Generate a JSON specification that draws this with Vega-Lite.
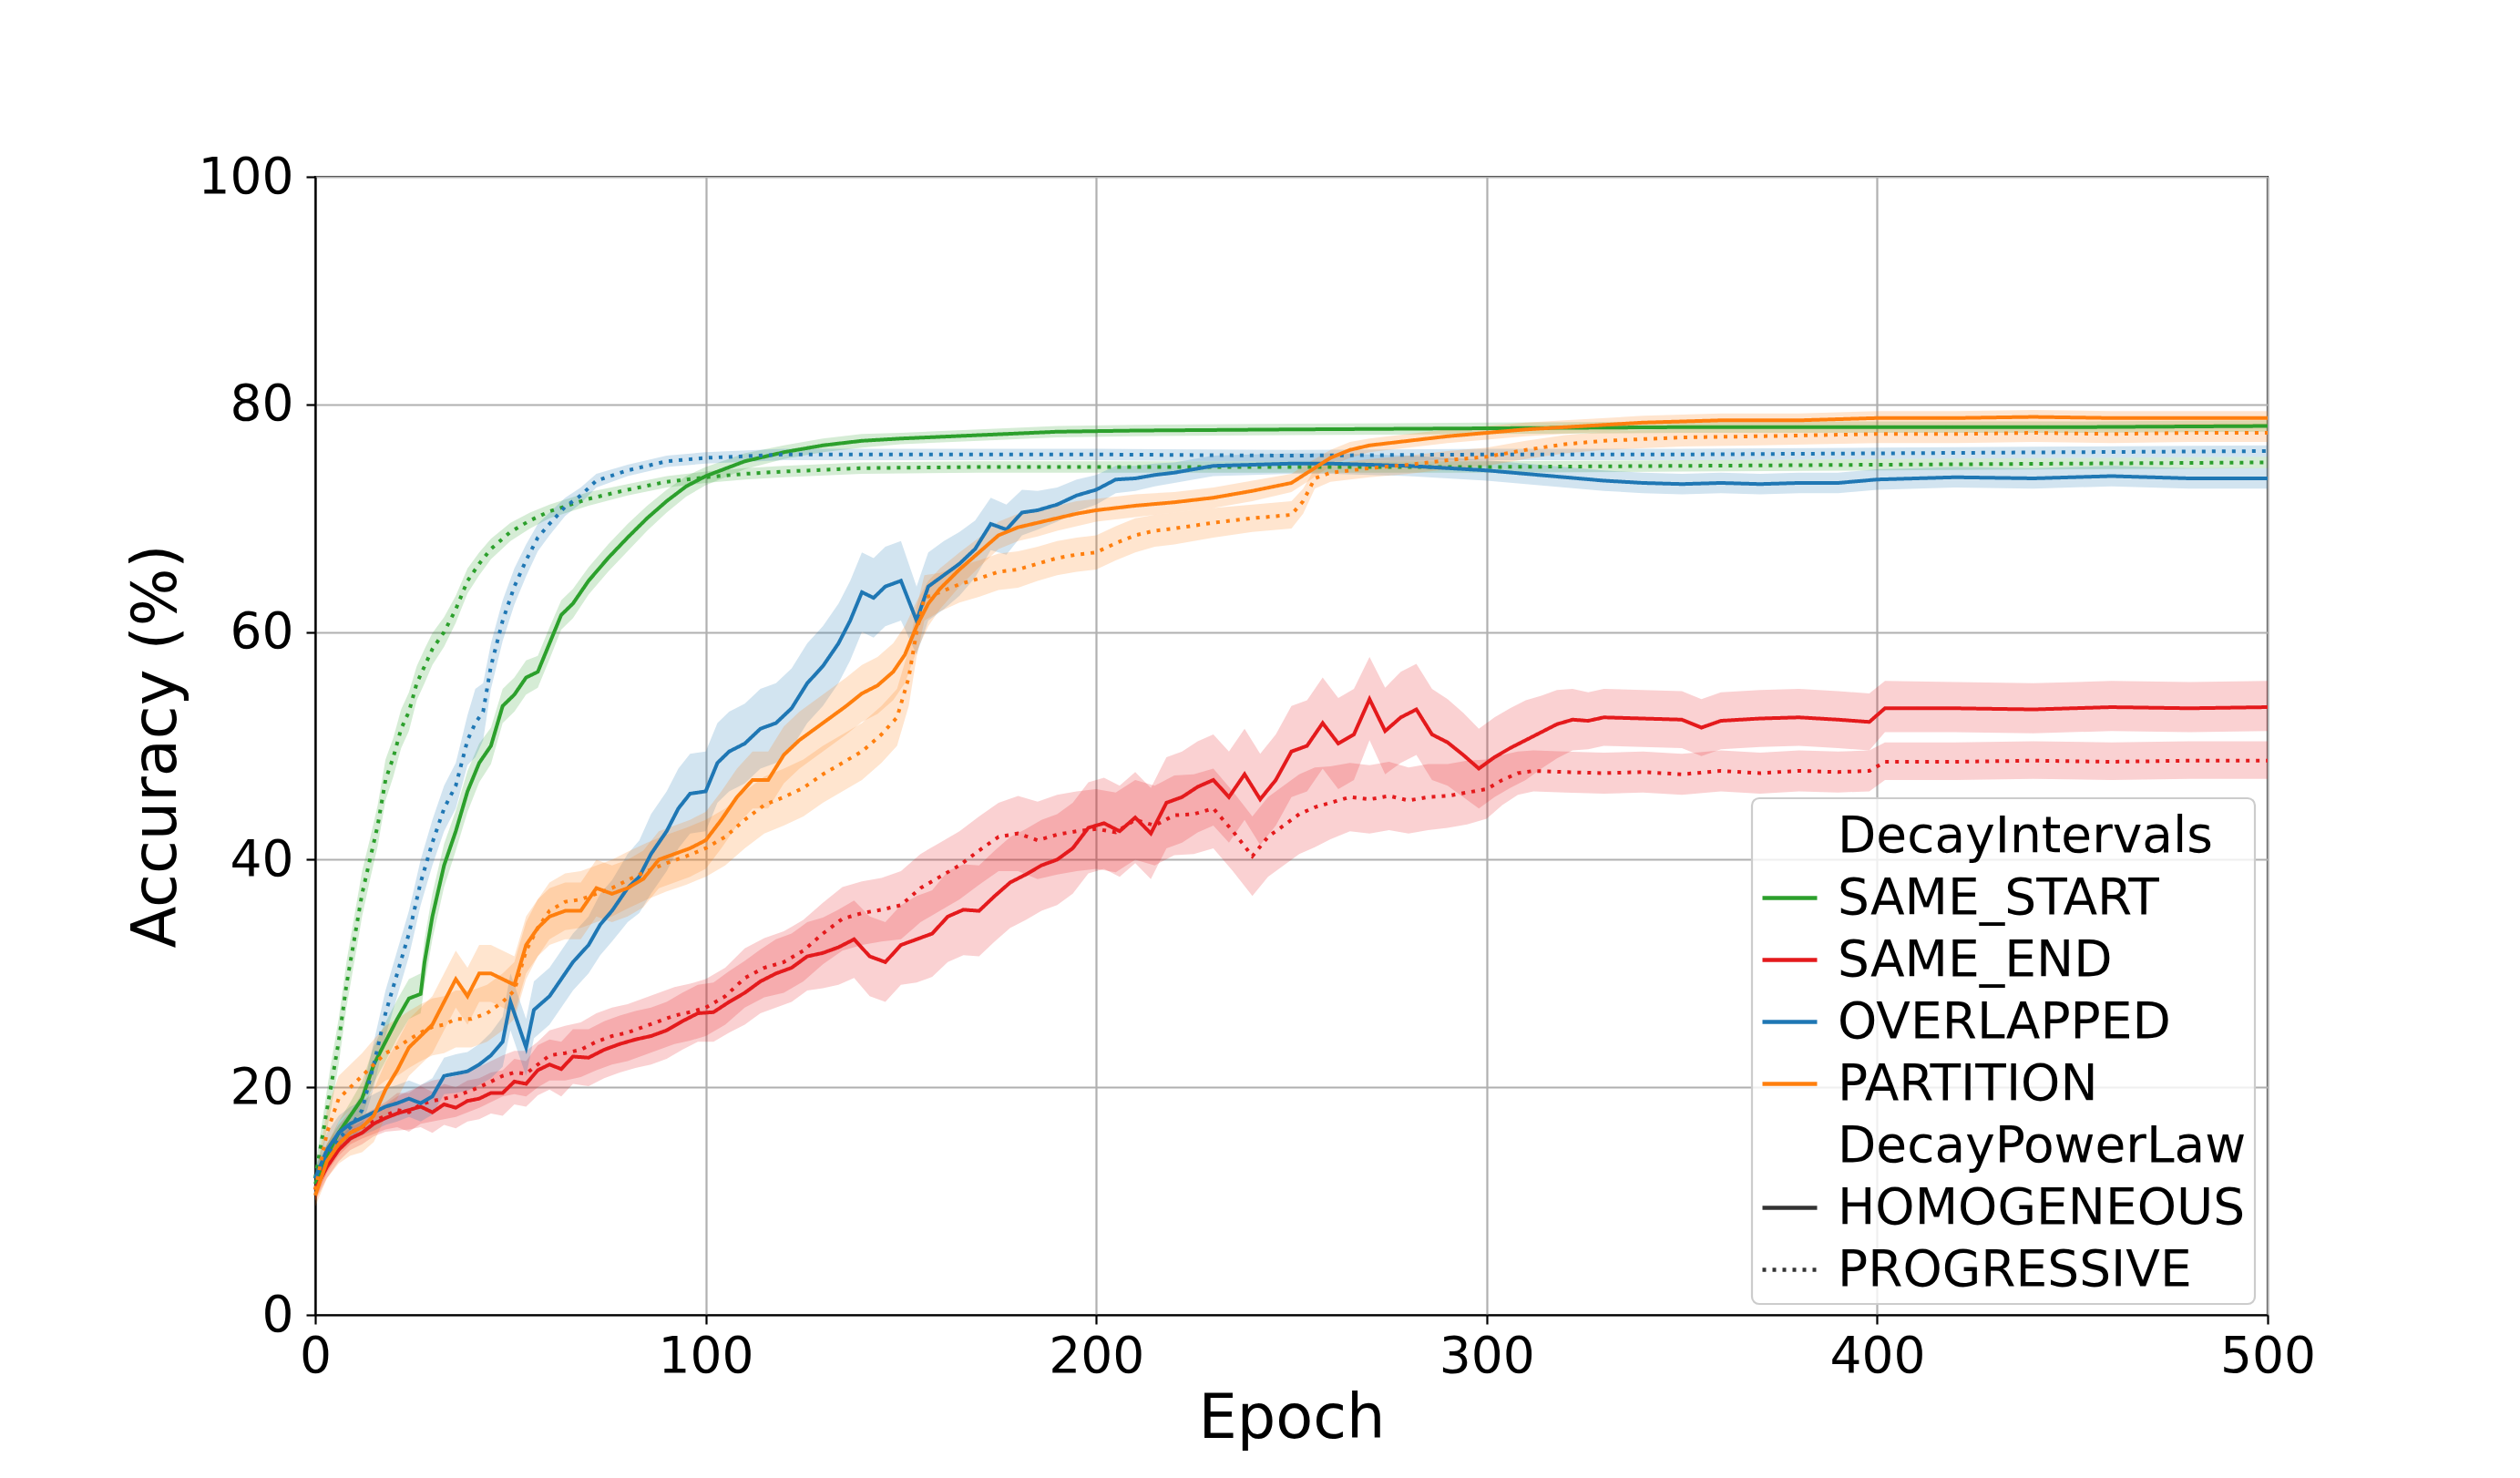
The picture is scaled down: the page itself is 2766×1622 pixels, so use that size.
{
  "$schema": "https://vega.github.io/schema/vega-lite/v6.json",
  "width": 2143,
  "height": 1249,
  "autosize": {"type": "none"},
  "padding": {"left": 346, "top": 194, "right": 277, "bottom": 179},
  "background": "white",
  "config": {
    "font": "DejaVu Sans",
    "view": {"stroke": "black", "strokeWidth": 2.2},
    "axis": {
      "labelFont": "DejaVu Sans", "labelFontSize": 55, "labelColor": "black",
      "titleFont": "DejaVu Sans", "titleFontSize": 67, "titleFontWeight": "normal", "titleColor": "black",
      "tickColor": "black", "tickSize": 10, "tickWidth": 2.2,
      "domainColor": "black", "domainWidth": 2.2,
      "gridColor": "#b0b0b0", "gridWidth": 2.2,
      "labelFlush": false, "labelOverlap": false
    },
    "axisX": {"labelPadding": 9, "titlePadding": 8},
    "axisY": {"labelPadding": 14, "titlePadding": 11},
    "legend": {
      "orient": "none", "legendX": 1577, "legendY": 682,
      "padding": 9, "fillColor": "rgba(255,255,255,0.8)", "strokeColor": "#cccccc",
      "strokeWidth": 2.2, "cornerRadius": 8,
      "labelFont": "DejaVu Sans", "labelFontSize": 55, "labelColor": "black", "labelLimit": 0,
      "symbolType": "stroke", "symbolSize": 3600, "symbolStrokeWidth": 4.5,
      "rowPadding": 7, "labelOffset": 20
    }
  },
  "datasets": {
    "curves": [
      {"e":0,"i":"SAME_START","p":"HOMOGENEOUS","m":11.5,"lo":10.5,"hi":12.5},
      {"e":3,"i":"SAME_START","p":"HOMOGENEOUS","m":14,"lo":13,"hi":15},
      {"e":6,"i":"SAME_START","p":"HOMOGENEOUS","m":16,"lo":15,"hi":17},
      {"e":9,"i":"SAME_START","p":"HOMOGENEOUS","m":17.5,"lo":16.3,"hi":18.7},
      {"e":12,"i":"SAME_START","p":"HOMOGENEOUS","m":19,"lo":17.5,"hi":20.5},
      {"e":15,"i":"SAME_START","p":"HOMOGENEOUS","m":22,"lo":20.4,"hi":23.6},
      {"e":18,"i":"SAME_START","p":"HOMOGENEOUS","m":24,"lo":22.3,"hi":25.7},
      {"e":21,"i":"SAME_START","p":"HOMOGENEOUS","m":26,"lo":24.3,"hi":27.7},
      {"e":24,"i":"SAME_START","p":"HOMOGENEOUS","m":27.8,"lo":26,"hi":29.5},
      {"e":27,"i":"SAME_START","p":"HOMOGENEOUS","m":28.2,"lo":26.5,"hi":30},
      {"e":28,"i":"SAME_START","p":"HOMOGENEOUS","m":31,"lo":29,"hi":33},
      {"e":30,"i":"SAME_START","p":"HOMOGENEOUS","m":35,"lo":33,"hi":37},
      {"e":33,"i":"SAME_START","p":"HOMOGENEOUS","m":39.5,"lo":37.6,"hi":41.4},
      {"e":36,"i":"SAME_START","p":"HOMOGENEOUS","m":42.5,"lo":40.8,"hi":44.3},
      {"e":39,"i":"SAME_START","p":"HOMOGENEOUS","m":46,"lo":44.2,"hi":47.8},
      {"e":42,"i":"SAME_START","p":"HOMOGENEOUS","m":48.5,"lo":46.8,"hi":50.2},
      {"e":45,"i":"SAME_START","p":"HOMOGENEOUS","m":50,"lo":48.4,"hi":51.6},
      {"e":48,"i":"SAME_START","p":"HOMOGENEOUS","m":53.5,"lo":52,"hi":55},
      {"e":51,"i":"SAME_START","p":"HOMOGENEOUS","m":54.5,"lo":53,"hi":56},
      {"e":54,"i":"SAME_START","p":"HOMOGENEOUS","m":56,"lo":54.5,"hi":57.5},
      {"e":57,"i":"SAME_START","p":"HOMOGENEOUS","m":56.5,"lo":55.1,"hi":57.9},
      {"e":60,"i":"SAME_START","p":"HOMOGENEOUS","m":59,"lo":57.6,"hi":60.4},
      {"e":63,"i":"SAME_START","p":"HOMOGENEOUS","m":61.5,"lo":60.2,"hi":62.8},
      {"e":66,"i":"SAME_START","p":"HOMOGENEOUS","m":62.5,"lo":61.2,"hi":63.8},
      {"e":70,"i":"SAME_START","p":"HOMOGENEOUS","m":64.5,"lo":63.3,"hi":65.7},
      {"e":75,"i":"SAME_START","p":"HOMOGENEOUS","m":66.5,"lo":65.3,"hi":67.7},
      {"e":80,"i":"SAME_START","p":"HOMOGENEOUS","m":68.3,"lo":67.1,"hi":69.5},
      {"e":85,"i":"SAME_START","p":"HOMOGENEOUS","m":70,"lo":68.9,"hi":71.1},
      {"e":90,"i":"SAME_START","p":"HOMOGENEOUS","m":71.5,"lo":70.5,"hi":72.5},
      {"e":95,"i":"SAME_START","p":"HOMOGENEOUS","m":72.8,"lo":71.9,"hi":73.7},
      {"e":100,"i":"SAME_START","p":"HOMOGENEOUS","m":73.7,"lo":72.9,"hi":74.5},
      {"e":110,"i":"SAME_START","p":"HOMOGENEOUS","m":75,"lo":74.3,"hi":75.7},
      {"e":120,"i":"SAME_START","p":"HOMOGENEOUS","m":75.8,"lo":75.2,"hi":76.4},
      {"e":130,"i":"SAME_START","p":"HOMOGENEOUS","m":76.4,"lo":75.8,"hi":77},
      {"e":140,"i":"SAME_START","p":"HOMOGENEOUS","m":76.8,"lo":76.2,"hi":77.4},
      {"e":150,"i":"SAME_START","p":"HOMOGENEOUS","m":77,"lo":76.5,"hi":77.5},
      {"e":170,"i":"SAME_START","p":"HOMOGENEOUS","m":77.3,"lo":76.8,"hi":77.8},
      {"e":190,"i":"SAME_START","p":"HOMOGENEOUS","m":77.6,"lo":77.1,"hi":78.1},
      {"e":210,"i":"SAME_START","p":"HOMOGENEOUS","m":77.7,"lo":77.2,"hi":78.2},
      {"e":250,"i":"SAME_START","p":"HOMOGENEOUS","m":77.8,"lo":77.3,"hi":78.3},
      {"e":300,"i":"SAME_START","p":"HOMOGENEOUS","m":77.9,"lo":77.4,"hi":78.4},
      {"e":350,"i":"SAME_START","p":"HOMOGENEOUS","m":78,"lo":77.5,"hi":78.5},
      {"e":400,"i":"SAME_START","p":"HOMOGENEOUS","m":78,"lo":77.5,"hi":78.5},
      {"e":450,"i":"SAME_START","p":"HOMOGENEOUS","m":78,"lo":77.5,"hi":78.5},
      {"e":500,"i":"SAME_START","p":"HOMOGENEOUS","m":78.1,"lo":77.6,"hi":78.6},

      {"e":0,"i":"SAME_START","p":"PROGRESSIVE","m":12,"lo":11,"hi":13},
      {"e":2,"i":"SAME_START","p":"PROGRESSIVE","m":16,"lo":14.5,"hi":17.5},
      {"e":4,"i":"SAME_START","p":"PROGRESSIVE","m":20,"lo":18,"hi":22},
      {"e":6,"i":"SAME_START","p":"PROGRESSIVE","m":24,"lo":22,"hi":26},
      {"e":8,"i":"SAME_START","p":"PROGRESSIVE","m":29,"lo":27,"hi":31},
      {"e":10,"i":"SAME_START","p":"PROGRESSIVE","m":33,"lo":31,"hi":35},
      {"e":12,"i":"SAME_START","p":"PROGRESSIVE","m":37,"lo":35,"hi":39},
      {"e":14,"i":"SAME_START","p":"PROGRESSIVE","m":40,"lo":38.2,"hi":41.8},
      {"e":16,"i":"SAME_START","p":"PROGRESSIVE","m":43,"lo":41.2,"hi":44.8},
      {"e":18,"i":"SAME_START","p":"PROGRESSIVE","m":47,"lo":45.2,"hi":48.8},
      {"e":20,"i":"SAME_START","p":"PROGRESSIVE","m":49,"lo":47.3,"hi":50.7},
      {"e":22,"i":"SAME_START","p":"PROGRESSIVE","m":51.5,"lo":49.8,"hi":53.2},
      {"e":24,"i":"SAME_START","p":"PROGRESSIVE","m":53,"lo":51.3,"hi":54.7},
      {"e":26,"i":"SAME_START","p":"PROGRESSIVE","m":55.5,"lo":54,"hi":57},
      {"e":28,"i":"SAME_START","p":"PROGRESSIVE","m":57,"lo":55.5,"hi":58.5},
      {"e":30,"i":"SAME_START","p":"PROGRESSIVE","m":58.5,"lo":57.1,"hi":59.9},
      {"e":33,"i":"SAME_START","p":"PROGRESSIVE","m":60,"lo":58.7,"hi":61.3},
      {"e":36,"i":"SAME_START","p":"PROGRESSIVE","m":62,"lo":60.8,"hi":63.2},
      {"e":39,"i":"SAME_START","p":"PROGRESSIVE","m":64.5,"lo":63.4,"hi":65.6},
      {"e":42,"i":"SAME_START","p":"PROGRESSIVE","m":66,"lo":65,"hi":67},
      {"e":45,"i":"SAME_START","p":"PROGRESSIVE","m":67.3,"lo":66.4,"hi":68.2},
      {"e":50,"i":"SAME_START","p":"PROGRESSIVE","m":68.8,"lo":68,"hi":69.6},
      {"e":55,"i":"SAME_START","p":"PROGRESSIVE","m":69.8,"lo":69.1,"hi":70.5},
      {"e":60,"i":"SAME_START","p":"PROGRESSIVE","m":70.6,"lo":70,"hi":71.2},
      {"e":70,"i":"SAME_START","p":"PROGRESSIVE","m":71.7,"lo":71.1,"hi":72.3},
      {"e":80,"i":"SAME_START","p":"PROGRESSIVE","m":72.5,"lo":72,"hi":73},
      {"e":90,"i":"SAME_START","p":"PROGRESSIVE","m":73.2,"lo":72.7,"hi":73.7},
      {"e":100,"i":"SAME_START","p":"PROGRESSIVE","m":73.6,"lo":73.1,"hi":74.1},
      {"e":110,"i":"SAME_START","p":"PROGRESSIVE","m":73.9,"lo":73.4,"hi":74.4},
      {"e":120,"i":"SAME_START","p":"PROGRESSIVE","m":74.1,"lo":73.6,"hi":74.6},
      {"e":140,"i":"SAME_START","p":"PROGRESSIVE","m":74.4,"lo":73.9,"hi":74.9},
      {"e":170,"i":"SAME_START","p":"PROGRESSIVE","m":74.5,"lo":74,"hi":75},
      {"e":200,"i":"SAME_START","p":"PROGRESSIVE","m":74.5,"lo":74,"hi":75},
      {"e":250,"i":"SAME_START","p":"PROGRESSIVE","m":74.5,"lo":74,"hi":75},
      {"e":300,"i":"SAME_START","p":"PROGRESSIVE","m":74.5,"lo":74,"hi":75},
      {"e":350,"i":"SAME_START","p":"PROGRESSIVE","m":74.6,"lo":74.1,"hi":75.1},
      {"e":400,"i":"SAME_START","p":"PROGRESSIVE","m":74.7,"lo":74.2,"hi":75.2},
      {"e":450,"i":"SAME_START","p":"PROGRESSIVE","m":74.8,"lo":74.3,"hi":75.3},
      {"e":500,"i":"SAME_START","p":"PROGRESSIVE","m":74.9,"lo":74.4,"hi":75.4},

      {"e":0,"i":"SAME_END","p":"HOMOGENEOUS","m":11,"lo":10,"hi":12},
      {"e":3,"i":"SAME_END","p":"HOMOGENEOUS","m":13,"lo":12,"hi":14},
      {"e":6,"i":"SAME_END","p":"HOMOGENEOUS","m":14.5,"lo":13.5,"hi":15.5},
      {"e":9,"i":"SAME_END","p":"HOMOGENEOUS","m":15.5,"lo":14.5,"hi":16.5},
      {"e":12,"i":"SAME_END","p":"HOMOGENEOUS","m":16,"lo":15,"hi":17},
      {"e":15,"i":"SAME_END","p":"HOMOGENEOUS","m":16.8,"lo":15.7,"hi":17.9},
      {"e":18,"i":"SAME_END","p":"HOMOGENEOUS","m":17.3,"lo":16.1,"hi":18.5},
      {"e":21,"i":"SAME_END","p":"HOMOGENEOUS","m":17.7,"lo":16.2,"hi":19.2},
      {"e":24,"i":"SAME_END","p":"HOMOGENEOUS","m":18,"lo":16.3,"hi":19.7},
      {"e":27,"i":"SAME_END","p":"HOMOGENEOUS","m":18.3,"lo":16.5,"hi":20.1},
      {"e":30,"i":"SAME_END","p":"HOMOGENEOUS","m":17.8,"lo":16,"hi":19.6},
      {"e":33,"i":"SAME_END","p":"HOMOGENEOUS","m":18.5,"lo":16.7,"hi":20.3},
      {"e":36,"i":"SAME_END","p":"HOMOGENEOUS","m":18.2,"lo":16.4,"hi":20},
      {"e":39,"i":"SAME_END","p":"HOMOGENEOUS","m":18.8,"lo":17,"hi":20.6},
      {"e":42,"i":"SAME_END","p":"HOMOGENEOUS","m":19,"lo":17.2,"hi":20.8},
      {"e":45,"i":"SAME_END","p":"HOMOGENEOUS","m":19.5,"lo":17.7,"hi":21.3},
      {"e":48,"i":"SAME_END","p":"HOMOGENEOUS","m":19.5,"lo":17.5,"hi":21.5},
      {"e":51,"i":"SAME_END","p":"HOMOGENEOUS","m":20.5,"lo":18.5,"hi":22.5},
      {"e":54,"i":"SAME_END","p":"HOMOGENEOUS","m":20.3,"lo":18.3,"hi":22.3},
      {"e":57,"i":"SAME_END","p":"HOMOGENEOUS","m":21.5,"lo":19.3,"hi":23.7},
      {"e":60,"i":"SAME_END","p":"HOMOGENEOUS","m":22,"lo":19.8,"hi":24.2},
      {"e":63,"i":"SAME_END","p":"HOMOGENEOUS","m":21.6,"lo":19.2,"hi":24},
      {"e":66,"i":"SAME_END","p":"HOMOGENEOUS","m":22.7,"lo":20.3,"hi":25.1},
      {"e":70,"i":"SAME_END","p":"HOMOGENEOUS","m":22.6,"lo":20.1,"hi":25.1},
      {"e":74,"i":"SAME_END","p":"HOMOGENEOUS","m":23.3,"lo":20.8,"hi":25.8},
      {"e":78,"i":"SAME_END","p":"HOMOGENEOUS","m":23.8,"lo":21.3,"hi":26.3},
      {"e":82,"i":"SAME_END","p":"HOMOGENEOUS","m":24.2,"lo":21.7,"hi":26.7},
      {"e":86,"i":"SAME_END","p":"HOMOGENEOUS","m":24.5,"lo":22,"hi":27},
      {"e":90,"i":"SAME_END","p":"HOMOGENEOUS","m":25,"lo":22.5,"hi":27.5},
      {"e":94,"i":"SAME_END","p":"HOMOGENEOUS","m":25.8,"lo":23.3,"hi":28.3},
      {"e":98,"i":"SAME_END","p":"HOMOGENEOUS","m":26.5,"lo":24,"hi":29},
      {"e":102,"i":"SAME_END","p":"HOMOGENEOUS","m":26.6,"lo":24,"hi":29.2},
      {"e":106,"i":"SAME_END","p":"HOMOGENEOUS","m":27.5,"lo":24.8,"hi":30.2},
      {"e":110,"i":"SAME_END","p":"HOMOGENEOUS","m":28.3,"lo":25.5,"hi":31.1},
      {"e":114,"i":"SAME_END","p":"HOMOGENEOUS","m":29.3,"lo":26.5,"hi":32.1},
      {"e":118,"i":"SAME_END","p":"HOMOGENEOUS","m":30,"lo":27,"hi":33},
      {"e":122,"i":"SAME_END","p":"HOMOGENEOUS","m":30.5,"lo":27.5,"hi":33.5},
      {"e":126,"i":"SAME_END","p":"HOMOGENEOUS","m":31.5,"lo":28.5,"hi":34.5},
      {"e":130,"i":"SAME_END","p":"HOMOGENEOUS","m":31.8,"lo":28.7,"hi":34.9},
      {"e":134,"i":"SAME_END","p":"HOMOGENEOUS","m":32.3,"lo":29,"hi":35.6},
      {"e":138,"i":"SAME_END","p":"HOMOGENEOUS","m":33,"lo":29.6,"hi":36.4},
      {"e":142,"i":"SAME_END","p":"HOMOGENEOUS","m":31.5,"lo":28,"hi":35},
      {"e":146,"i":"SAME_END","p":"HOMOGENEOUS","m":31,"lo":27.5,"hi":34.5},
      {"e":150,"i":"SAME_END","p":"HOMOGENEOUS","m":32.5,"lo":29,"hi":36},
      {"e":154,"i":"SAME_END","p":"HOMOGENEOUS","m":33,"lo":29.2,"hi":36.8},
      {"e":158,"i":"SAME_END","p":"HOMOGENEOUS","m":33.5,"lo":29.7,"hi":37.3},
      {"e":162,"i":"SAME_END","p":"HOMOGENEOUS","m":35,"lo":31,"hi":39},
      {"e":166,"i":"SAME_END","p":"HOMOGENEOUS","m":35.6,"lo":31.6,"hi":39.6},
      {"e":170,"i":"SAME_END","p":"HOMOGENEOUS","m":35.5,"lo":31.5,"hi":39.5},
      {"e":174,"i":"SAME_END","p":"HOMOGENEOUS","m":36.8,"lo":32.8,"hi":40.8},
      {"e":178,"i":"SAME_END","p":"HOMOGENEOUS","m":38,"lo":34,"hi":42},
      {"e":182,"i":"SAME_END","p":"HOMOGENEOUS","m":38.7,"lo":34.7,"hi":42.7},
      {"e":186,"i":"SAME_END","p":"HOMOGENEOUS","m":39.5,"lo":35.5,"hi":43.5},
      {"e":190,"i":"SAME_END","p":"HOMOGENEOUS","m":40,"lo":36,"hi":44},
      {"e":194,"i":"SAME_END","p":"HOMOGENEOUS","m":41,"lo":37,"hi":45},
      {"e":198,"i":"SAME_END","p":"HOMOGENEOUS","m":42.8,"lo":38.8,"hi":46.8},
      {"e":202,"i":"SAME_END","p":"HOMOGENEOUS","m":43.2,"lo":39.2,"hi":47.2},
      {"e":206,"i":"SAME_END","p":"HOMOGENEOUS","m":42.5,"lo":38.5,"hi":46.5},
      {"e":210,"i":"SAME_END","p":"HOMOGENEOUS","m":43.7,"lo":39.7,"hi":47.7},
      {"e":214,"i":"SAME_END","p":"HOMOGENEOUS","m":42.3,"lo":38.3,"hi":46.3},
      {"e":218,"i":"SAME_END","p":"HOMOGENEOUS","m":45,"lo":41,"hi":49},
      {"e":222,"i":"SAME_END","p":"HOMOGENEOUS","m":45.5,"lo":41.5,"hi":49.5},
      {"e":226,"i":"SAME_END","p":"HOMOGENEOUS","m":46.4,"lo":42.4,"hi":50.4},
      {"e":230,"i":"SAME_END","p":"HOMOGENEOUS","m":47,"lo":43,"hi":51},
      {"e":234,"i":"SAME_END","p":"HOMOGENEOUS","m":45.5,"lo":41.5,"hi":49.5},
      {"e":238,"i":"SAME_END","p":"HOMOGENEOUS","m":47.5,"lo":43.5,"hi":51.5},
      {"e":242,"i":"SAME_END","p":"HOMOGENEOUS","m":45.3,"lo":41.3,"hi":49.3},
      {"e":246,"i":"SAME_END","p":"HOMOGENEOUS","m":47,"lo":43,"hi":51},
      {"e":250,"i":"SAME_END","p":"HOMOGENEOUS","m":49.5,"lo":45.5,"hi":53.5},
      {"e":254,"i":"SAME_END","p":"HOMOGENEOUS","m":50,"lo":46,"hi":54},
      {"e":258,"i":"SAME_END","p":"HOMOGENEOUS","m":52,"lo":48,"hi":56},
      {"e":262,"i":"SAME_END","p":"HOMOGENEOUS","m":50.2,"lo":46.2,"hi":54.2},
      {"e":266,"i":"SAME_END","p":"HOMOGENEOUS","m":51,"lo":47,"hi":55},
      {"e":270,"i":"SAME_END","p":"HOMOGENEOUS","m":54.1,"lo":50.5,"hi":57.8},
      {"e":274,"i":"SAME_END","p":"HOMOGENEOUS","m":51.3,"lo":47.5,"hi":55.1},
      {"e":278,"i":"SAME_END","p":"HOMOGENEOUS","m":52.5,"lo":48.5,"hi":56.5},
      {"e":282,"i":"SAME_END","p":"HOMOGENEOUS","m":53.2,"lo":49.2,"hi":57.2},
      {"e":286,"i":"SAME_END","p":"HOMOGENEOUS","m":51,"lo":47,"hi":55},
      {"e":290,"i":"SAME_END","p":"HOMOGENEOUS","m":50.3,"lo":46.5,"hi":54.1},
      {"e":294,"i":"SAME_END","p":"HOMOGENEOUS","m":49.2,"lo":45.5,"hi":52.9},
      {"e":298,"i":"SAME_END","p":"HOMOGENEOUS","m":48,"lo":44.5,"hi":51.5},
      {"e":302,"i":"SAME_END","p":"HOMOGENEOUS","m":49,"lo":45.5,"hi":52.5},
      {"e":306,"i":"SAME_END","p":"HOMOGENEOUS","m":49.8,"lo":46.3,"hi":53.3},
      {"e":310,"i":"SAME_END","p":"HOMOGENEOUS","m":50.5,"lo":47,"hi":54},
      {"e":314,"i":"SAME_END","p":"HOMOGENEOUS","m":51.2,"lo":48,"hi":54.4},
      {"e":318,"i":"SAME_END","p":"HOMOGENEOUS","m":51.9,"lo":48.9,"hi":54.9},
      {"e":322,"i":"SAME_END","p":"HOMOGENEOUS","m":52.3,"lo":49.6,"hi":55},
      {"e":326,"i":"SAME_END","p":"HOMOGENEOUS","m":52.2,"lo":49.7,"hi":54.7},
      {"e":330,"i":"SAME_END","p":"HOMOGENEOUS","m":52.5,"lo":50,"hi":55},
      {"e":340,"i":"SAME_END","p":"HOMOGENEOUS","m":52.4,"lo":49.9,"hi":54.9},
      {"e":350,"i":"SAME_END","p":"HOMOGENEOUS","m":52.3,"lo":49.8,"hi":54.8},
      {"e":355,"i":"SAME_END","p":"HOMOGENEOUS","m":51.6,"lo":49.1,"hi":54.1},
      {"e":360,"i":"SAME_END","p":"HOMOGENEOUS","m":52.2,"lo":49.7,"hi":54.7},
      {"e":370,"i":"SAME_END","p":"HOMOGENEOUS","m":52.4,"lo":49.9,"hi":54.9},
      {"e":380,"i":"SAME_END","p":"HOMOGENEOUS","m":52.5,"lo":50,"hi":55},
      {"e":390,"i":"SAME_END","p":"HOMOGENEOUS","m":52.3,"lo":49.8,"hi":54.8},
      {"e":398,"i":"SAME_END","p":"HOMOGENEOUS","m":52.1,"lo":49.6,"hi":54.6},
      {"e":402,"i":"SAME_END","p":"HOMOGENEOUS","m":53.3,"lo":51.2,"hi":55.7},
      {"e":420,"i":"SAME_END","p":"HOMOGENEOUS","m":53.3,"lo":51.2,"hi":55.6},
      {"e":440,"i":"SAME_END","p":"HOMOGENEOUS","m":53.2,"lo":51.1,"hi":55.5},
      {"e":460,"i":"SAME_END","p":"HOMOGENEOUS","m":53.4,"lo":51.3,"hi":55.7},
      {"e":480,"i":"SAME_END","p":"HOMOGENEOUS","m":53.3,"lo":51.2,"hi":55.6},
      {"e":500,"i":"SAME_END","p":"HOMOGENEOUS","m":53.4,"lo":51.3,"hi":55.7},

      {"e":0,"i":"SAME_END","p":"PROGRESSIVE","m":11,"lo":10,"hi":12},
      {"e":3,"i":"SAME_END","p":"PROGRESSIVE","m":13.5,"lo":12.5,"hi":14.5},
      {"e":6,"i":"SAME_END","p":"PROGRESSIVE","m":15,"lo":14,"hi":16},
      {"e":9,"i":"SAME_END","p":"PROGRESSIVE","m":16,"lo":15,"hi":17},
      {"e":12,"i":"SAME_END","p":"PROGRESSIVE","m":16.5,"lo":15.5,"hi":17.5},
      {"e":15,"i":"SAME_END","p":"PROGRESSIVE","m":17,"lo":15.9,"hi":18.1},
      {"e":18,"i":"SAME_END","p":"PROGRESSIVE","m":17.5,"lo":16.3,"hi":18.7},
      {"e":21,"i":"SAME_END","p":"PROGRESSIVE","m":18,"lo":16.5,"hi":19.5},
      {"e":24,"i":"SAME_END","p":"PROGRESSIVE","m":17.8,"lo":16.1,"hi":19.5},
      {"e":27,"i":"SAME_END","p":"PROGRESSIVE","m":18.5,"lo":16.8,"hi":20.2},
      {"e":30,"i":"SAME_END","p":"PROGRESSIVE","m":18.8,"lo":17,"hi":20.6},
      {"e":33,"i":"SAME_END","p":"PROGRESSIVE","m":19,"lo":17.2,"hi":20.8},
      {"e":36,"i":"SAME_END","p":"PROGRESSIVE","m":19.2,"lo":17.4,"hi":21},
      {"e":39,"i":"SAME_END","p":"PROGRESSIVE","m":19.6,"lo":17.8,"hi":21.4},
      {"e":42,"i":"SAME_END","p":"PROGRESSIVE","m":20,"lo":18.2,"hi":21.8},
      {"e":45,"i":"SAME_END","p":"PROGRESSIVE","m":20.5,"lo":18.7,"hi":22.3},
      {"e":48,"i":"SAME_END","p":"PROGRESSIVE","m":21,"lo":19.2,"hi":22.8},
      {"e":51,"i":"SAME_END","p":"PROGRESSIVE","m":21.3,"lo":19.4,"hi":23.2},
      {"e":54,"i":"SAME_END","p":"PROGRESSIVE","m":21.2,"lo":19.2,"hi":23.2},
      {"e":57,"i":"SAME_END","p":"PROGRESSIVE","m":22,"lo":20,"hi":24},
      {"e":60,"i":"SAME_END","p":"PROGRESSIVE","m":22.8,"lo":20.6,"hi":25},
      {"e":64,"i":"SAME_END","p":"PROGRESSIVE","m":23,"lo":20.6,"hi":25.4},
      {"e":68,"i":"SAME_END","p":"PROGRESSIVE","m":23.3,"lo":20.9,"hi":25.7},
      {"e":72,"i":"SAME_END","p":"PROGRESSIVE","m":24,"lo":21.5,"hi":26.5},
      {"e":76,"i":"SAME_END","p":"PROGRESSIVE","m":24.5,"lo":22,"hi":27},
      {"e":80,"i":"SAME_END","p":"PROGRESSIVE","m":24.8,"lo":22.3,"hi":27.3},
      {"e":84,"i":"SAME_END","p":"PROGRESSIVE","m":25.3,"lo":22.8,"hi":27.8},
      {"e":88,"i":"SAME_END","p":"PROGRESSIVE","m":25.8,"lo":23.3,"hi":28.3},
      {"e":92,"i":"SAME_END","p":"PROGRESSIVE","m":26.3,"lo":23.8,"hi":28.8},
      {"e":96,"i":"SAME_END","p":"PROGRESSIVE","m":26.6,"lo":24.1,"hi":29.1},
      {"e":100,"i":"SAME_END","p":"PROGRESSIVE","m":27,"lo":24.5,"hi":29.5},
      {"e":105,"i":"SAME_END","p":"PROGRESSIVE","m":28,"lo":25.5,"hi":30.5},
      {"e":110,"i":"SAME_END","p":"PROGRESSIVE","m":29.6,"lo":27,"hi":32.2},
      {"e":115,"i":"SAME_END","p":"PROGRESSIVE","m":30.5,"lo":27.9,"hi":33.1},
      {"e":120,"i":"SAME_END","p":"PROGRESSIVE","m":31,"lo":28.3,"hi":33.7},
      {"e":125,"i":"SAME_END","p":"PROGRESSIVE","m":32,"lo":29.3,"hi":34.7},
      {"e":130,"i":"SAME_END","p":"PROGRESSIVE","m":33.5,"lo":30.8,"hi":36.2},
      {"e":135,"i":"SAME_END","p":"PROGRESSIVE","m":34.8,"lo":32,"hi":37.6},
      {"e":140,"i":"SAME_END","p":"PROGRESSIVE","m":35.3,"lo":32.5,"hi":38.1},
      {"e":145,"i":"SAME_END","p":"PROGRESSIVE","m":35.6,"lo":32.8,"hi":38.4},
      {"e":150,"i":"SAME_END","p":"PROGRESSIVE","m":36,"lo":33,"hi":39},
      {"e":155,"i":"SAME_END","p":"PROGRESSIVE","m":37.5,"lo":34.5,"hi":40.5},
      {"e":160,"i":"SAME_END","p":"PROGRESSIVE","m":38.5,"lo":35.5,"hi":41.5},
      {"e":165,"i":"SAME_END","p":"PROGRESSIVE","m":39.5,"lo":36.5,"hi":42.5},
      {"e":170,"i":"SAME_END","p":"PROGRESSIVE","m":40.8,"lo":37.8,"hi":43.8},
      {"e":175,"i":"SAME_END","p":"PROGRESSIVE","m":42,"lo":39,"hi":45},
      {"e":180,"i":"SAME_END","p":"PROGRESSIVE","m":42.3,"lo":39,"hi":45.6},
      {"e":185,"i":"SAME_END","p":"PROGRESSIVE","m":41.7,"lo":38.3,"hi":45.1},
      {"e":190,"i":"SAME_END","p":"PROGRESSIVE","m":42.2,"lo":38.7,"hi":45.7},
      {"e":195,"i":"SAME_END","p":"PROGRESSIVE","m":42.5,"lo":39,"hi":46},
      {"e":200,"i":"SAME_END","p":"PROGRESSIVE","m":42.7,"lo":39.2,"hi":46.2},
      {"e":205,"i":"SAME_END","p":"PROGRESSIVE","m":42.4,"lo":38.9,"hi":45.9},
      {"e":210,"i":"SAME_END","p":"PROGRESSIVE","m":43.5,"lo":40,"hi":47},
      {"e":215,"i":"SAME_END","p":"PROGRESSIVE","m":43,"lo":39.5,"hi":46.5},
      {"e":220,"i":"SAME_END","p":"PROGRESSIVE","m":43.9,"lo":40.4,"hi":47.4},
      {"e":225,"i":"SAME_END","p":"PROGRESSIVE","m":44,"lo":40.5,"hi":47.5},
      {"e":230,"i":"SAME_END","p":"PROGRESSIVE","m":44.5,"lo":41,"hi":48},
      {"e":235,"i":"SAME_END","p":"PROGRESSIVE","m":42.5,"lo":39,"hi":46},
      {"e":240,"i":"SAME_END","p":"PROGRESSIVE","m":40.3,"lo":36.8,"hi":43.8},
      {"e":244,"i":"SAME_END","p":"PROGRESSIVE","m":42,"lo":38.5,"hi":45.5},
      {"e":248,"i":"SAME_END","p":"PROGRESSIVE","m":43,"lo":39.5,"hi":46.5},
      {"e":252,"i":"SAME_END","p":"PROGRESSIVE","m":44,"lo":40.5,"hi":47.5},
      {"e":256,"i":"SAME_END","p":"PROGRESSIVE","m":44.6,"lo":41.1,"hi":48.1},
      {"e":260,"i":"SAME_END","p":"PROGRESSIVE","m":45,"lo":41.8,"hi":48.2},
      {"e":265,"i":"SAME_END","p":"PROGRESSIVE","m":45.5,"lo":42.5,"hi":48.5},
      {"e":270,"i":"SAME_END","p":"PROGRESSIVE","m":45.3,"lo":42.3,"hi":48.3},
      {"e":275,"i":"SAME_END","p":"PROGRESSIVE","m":45.6,"lo":42.6,"hi":48.6},
      {"e":280,"i":"SAME_END","p":"PROGRESSIVE","m":45.2,"lo":42.3,"hi":48.1},
      {"e":285,"i":"SAME_END","p":"PROGRESSIVE","m":45.5,"lo":42.6,"hi":48.4},
      {"e":290,"i":"SAME_END","p":"PROGRESSIVE","m":45.6,"lo":42.8,"hi":48.4},
      {"e":295,"i":"SAME_END","p":"PROGRESSIVE","m":45.9,"lo":43.1,"hi":48.7},
      {"e":300,"i":"SAME_END","p":"PROGRESSIVE","m":46.2,"lo":43.6,"hi":48.8},
      {"e":304,"i":"SAME_END","p":"PROGRESSIVE","m":47,"lo":44.8,"hi":49.2},
      {"e":308,"i":"SAME_END","p":"PROGRESSIVE","m":47.6,"lo":45.7,"hi":49.5},
      {"e":312,"i":"SAME_END","p":"PROGRESSIVE","m":47.8,"lo":46,"hi":49.6},
      {"e":320,"i":"SAME_END","p":"PROGRESSIVE","m":47.7,"lo":45.9,"hi":49.5},
      {"e":330,"i":"SAME_END","p":"PROGRESSIVE","m":47.6,"lo":45.8,"hi":49.4},
      {"e":340,"i":"SAME_END","p":"PROGRESSIVE","m":47.7,"lo":45.9,"hi":49.5},
      {"e":350,"i":"SAME_END","p":"PROGRESSIVE","m":47.5,"lo":45.7,"hi":49.3},
      {"e":360,"i":"SAME_END","p":"PROGRESSIVE","m":47.8,"lo":46,"hi":49.6},
      {"e":370,"i":"SAME_END","p":"PROGRESSIVE","m":47.6,"lo":45.8,"hi":49.4},
      {"e":380,"i":"SAME_END","p":"PROGRESSIVE","m":47.8,"lo":46,"hi":49.6},
      {"e":390,"i":"SAME_END","p":"PROGRESSIVE","m":47.7,"lo":45.9,"hi":49.5},
      {"e":398,"i":"SAME_END","p":"PROGRESSIVE","m":47.8,"lo":46,"hi":49.6},
      {"e":402,"i":"SAME_END","p":"PROGRESSIVE","m":48.6,"lo":47,"hi":50.3},
      {"e":420,"i":"SAME_END","p":"PROGRESSIVE","m":48.6,"lo":47,"hi":50.3},
      {"e":440,"i":"SAME_END","p":"PROGRESSIVE","m":48.7,"lo":47.1,"hi":50.4},
      {"e":460,"i":"SAME_END","p":"PROGRESSIVE","m":48.6,"lo":47,"hi":50.3},
      {"e":480,"i":"SAME_END","p":"PROGRESSIVE","m":48.7,"lo":47.1,"hi":50.4},
      {"e":500,"i":"SAME_END","p":"PROGRESSIVE","m":48.7,"lo":47.1,"hi":50.4},

      {"e":0,"i":"OVERLAPPED","p":"HOMOGENEOUS","m":12,"lo":11,"hi":13},
      {"e":3,"i":"OVERLAPPED","p":"HOMOGENEOUS","m":14.5,"lo":13,"hi":16},
      {"e":6,"i":"OVERLAPPED","p":"HOMOGENEOUS","m":16,"lo":14.5,"hi":17.5},
      {"e":9,"i":"OVERLAPPED","p":"HOMOGENEOUS","m":16.8,"lo":15.3,"hi":18.3},
      {"e":12,"i":"OVERLAPPED","p":"HOMOGENEOUS","m":17.3,"lo":15.8,"hi":18.8},
      {"e":15,"i":"OVERLAPPED","p":"HOMOGENEOUS","m":17.8,"lo":16.2,"hi":19.4},
      {"e":18,"i":"OVERLAPPED","p":"HOMOGENEOUS","m":18.3,"lo":16.7,"hi":19.9},
      {"e":21,"i":"OVERLAPPED","p":"HOMOGENEOUS","m":18.6,"lo":17,"hi":20.2},
      {"e":24,"i":"OVERLAPPED","p":"HOMOGENEOUS","m":19,"lo":17.4,"hi":20.6},
      {"e":27,"i":"OVERLAPPED","p":"HOMOGENEOUS","m":18.6,"lo":17,"hi":20.2},
      {"e":30,"i":"OVERLAPPED","p":"HOMOGENEOUS","m":19.2,"lo":17.6,"hi":20.8},
      {"e":33,"i":"OVERLAPPED","p":"HOMOGENEOUS","m":21,"lo":19.4,"hi":22.6},
      {"e":36,"i":"OVERLAPPED","p":"HOMOGENEOUS","m":21.2,"lo":19.5,"hi":22.9},
      {"e":39,"i":"OVERLAPPED","p":"HOMOGENEOUS","m":21.4,"lo":19.7,"hi":23.1},
      {"e":42,"i":"OVERLAPPED","p":"HOMOGENEOUS","m":22,"lo":20.2,"hi":23.8},
      {"e":45,"i":"OVERLAPPED","p":"HOMOGENEOUS","m":22.8,"lo":20.8,"hi":24.8},
      {"e":48,"i":"OVERLAPPED","p":"HOMOGENEOUS","m":24,"lo":21.8,"hi":26.2},
      {"e":50,"i":"OVERLAPPED","p":"HOMOGENEOUS","m":27.5,"lo":25,"hi":30},
      {"e":52,"i":"OVERLAPPED","p":"HOMOGENEOUS","m":25.5,"lo":23,"hi":28},
      {"e":54,"i":"OVERLAPPED","p":"HOMOGENEOUS","m":23.5,"lo":21,"hi":26},
      {"e":56,"i":"OVERLAPPED","p":"HOMOGENEOUS","m":26.8,"lo":24.3,"hi":29.3},
      {"e":60,"i":"OVERLAPPED","p":"HOMOGENEOUS","m":28,"lo":25.5,"hi":30.5},
      {"e":63,"i":"OVERLAPPED","p":"HOMOGENEOUS","m":29.5,"lo":27,"hi":32},
      {"e":66,"i":"OVERLAPPED","p":"HOMOGENEOUS","m":31,"lo":28.5,"hi":33.5},
      {"e":70,"i":"OVERLAPPED","p":"HOMOGENEOUS","m":32.5,"lo":30,"hi":35},
      {"e":73,"i":"OVERLAPPED","p":"HOMOGENEOUS","m":34.3,"lo":31.6,"hi":37},
      {"e":76,"i":"OVERLAPPED","p":"HOMOGENEOUS","m":35.5,"lo":32.8,"hi":38.2},
      {"e":80,"i":"OVERLAPPED","p":"HOMOGENEOUS","m":37.5,"lo":34.5,"hi":40.5},
      {"e":83,"i":"OVERLAPPED","p":"HOMOGENEOUS","m":38.5,"lo":35.3,"hi":41.7},
      {"e":86,"i":"OVERLAPPED","p":"HOMOGENEOUS","m":40.5,"lo":37,"hi":44},
      {"e":90,"i":"OVERLAPPED","p":"HOMOGENEOUS","m":42.5,"lo":39,"hi":46},
      {"e":93,"i":"OVERLAPPED","p":"HOMOGENEOUS","m":44.5,"lo":41,"hi":48},
      {"e":96,"i":"OVERLAPPED","p":"HOMOGENEOUS","m":45.8,"lo":42.3,"hi":49.3},
      {"e":100,"i":"OVERLAPPED","p":"HOMOGENEOUS","m":46,"lo":42.5,"hi":49.5},
      {"e":103,"i":"OVERLAPPED","p":"HOMOGENEOUS","m":48.5,"lo":45,"hi":52},
      {"e":106,"i":"OVERLAPPED","p":"HOMOGENEOUS","m":49.5,"lo":46,"hi":53},
      {"e":110,"i":"OVERLAPPED","p":"HOMOGENEOUS","m":50.2,"lo":46.7,"hi":53.7},
      {"e":114,"i":"OVERLAPPED","p":"HOMOGENEOUS","m":51.5,"lo":48,"hi":55},
      {"e":118,"i":"OVERLAPPED","p":"HOMOGENEOUS","m":52,"lo":48.5,"hi":55.5},
      {"e":122,"i":"OVERLAPPED","p":"HOMOGENEOUS","m":53.3,"lo":49.8,"hi":56.8},
      {"e":126,"i":"OVERLAPPED","p":"HOMOGENEOUS","m":55.5,"lo":52,"hi":59},
      {"e":130,"i":"OVERLAPPED","p":"HOMOGENEOUS","m":57,"lo":53.5,"hi":60.5},
      {"e":134,"i":"OVERLAPPED","p":"HOMOGENEOUS","m":59,"lo":55.5,"hi":62.5},
      {"e":137,"i":"OVERLAPPED","p":"HOMOGENEOUS","m":61,"lo":57.5,"hi":64.5},
      {"e":140,"i":"OVERLAPPED","p":"HOMOGENEOUS","m":63.5,"lo":60,"hi":67},
      {"e":143,"i":"OVERLAPPED","p":"HOMOGENEOUS","m":63,"lo":59.5,"hi":66.5},
      {"e":146,"i":"OVERLAPPED","p":"HOMOGENEOUS","m":64,"lo":60.5,"hi":67.5},
      {"e":150,"i":"OVERLAPPED","p":"HOMOGENEOUS","m":64.5,"lo":61,"hi":68},
      {"e":154,"i":"OVERLAPPED","p":"HOMOGENEOUS","m":61,"lo":58,"hi":64},
      {"e":157,"i":"OVERLAPPED","p":"HOMOGENEOUS","m":64,"lo":61,"hi":67},
      {"e":161,"i":"OVERLAPPED","p":"HOMOGENEOUS","m":65,"lo":62,"hi":68},
      {"e":165,"i":"OVERLAPPED","p":"HOMOGENEOUS","m":66,"lo":63.2,"hi":68.8},
      {"e":169,"i":"OVERLAPPED","p":"HOMOGENEOUS","m":67.3,"lo":64.8,"hi":69.8},
      {"e":173,"i":"OVERLAPPED","p":"HOMOGENEOUS","m":69.5,"lo":67.2,"hi":71.8},
      {"e":177,"i":"OVERLAPPED","p":"HOMOGENEOUS","m":69,"lo":66.8,"hi":71.2},
      {"e":181,"i":"OVERLAPPED","p":"HOMOGENEOUS","m":70.5,"lo":68.5,"hi":72.5},
      {"e":185,"i":"OVERLAPPED","p":"HOMOGENEOUS","m":70.7,"lo":69,"hi":72.4},
      {"e":190,"i":"OVERLAPPED","p":"HOMOGENEOUS","m":71.2,"lo":69.7,"hi":72.7},
      {"e":195,"i":"OVERLAPPED","p":"HOMOGENEOUS","m":72,"lo":70.6,"hi":73.4},
      {"e":200,"i":"OVERLAPPED","p":"HOMOGENEOUS","m":72.5,"lo":71.2,"hi":73.8},
      {"e":205,"i":"OVERLAPPED","p":"HOMOGENEOUS","m":73.4,"lo":72.2,"hi":74.6},
      {"e":210,"i":"OVERLAPPED","p":"HOMOGENEOUS","m":73.5,"lo":72.4,"hi":74.6},
      {"e":215,"i":"OVERLAPPED","p":"HOMOGENEOUS","m":73.8,"lo":72.8,"hi":74.8},
      {"e":220,"i":"OVERLAPPED","p":"HOMOGENEOUS","m":74,"lo":73.1,"hi":74.9},
      {"e":230,"i":"OVERLAPPED","p":"HOMOGENEOUS","m":74.6,"lo":73.7,"hi":75.5},
      {"e":240,"i":"OVERLAPPED","p":"HOMOGENEOUS","m":74.7,"lo":73.8,"hi":75.6},
      {"e":250,"i":"OVERLAPPED","p":"HOMOGENEOUS","m":74.8,"lo":73.9,"hi":75.7},
      {"e":260,"i":"OVERLAPPED","p":"HOMOGENEOUS","m":74.8,"lo":73.9,"hi":75.7},
      {"e":270,"i":"OVERLAPPED","p":"HOMOGENEOUS","m":74.7,"lo":73.8,"hi":75.6},
      {"e":280,"i":"OVERLAPPED","p":"HOMOGENEOUS","m":74.6,"lo":73.7,"hi":75.5},
      {"e":290,"i":"OVERLAPPED","p":"HOMOGENEOUS","m":74.4,"lo":73.5,"hi":75.3},
      {"e":300,"i":"OVERLAPPED","p":"HOMOGENEOUS","m":74.2,"lo":73.3,"hi":75.1},
      {"e":310,"i":"OVERLAPPED","p":"HOMOGENEOUS","m":73.9,"lo":73,"hi":74.8},
      {"e":320,"i":"OVERLAPPED","p":"HOMOGENEOUS","m":73.6,"lo":72.7,"hi":74.5},
      {"e":330,"i":"OVERLAPPED","p":"HOMOGENEOUS","m":73.3,"lo":72.4,"hi":74.2},
      {"e":340,"i":"OVERLAPPED","p":"HOMOGENEOUS","m":73.1,"lo":72.2,"hi":74},
      {"e":350,"i":"OVERLAPPED","p":"HOMOGENEOUS","m":73,"lo":72.1,"hi":73.9},
      {"e":360,"i":"OVERLAPPED","p":"HOMOGENEOUS","m":73.1,"lo":72.2,"hi":74},
      {"e":370,"i":"OVERLAPPED","p":"HOMOGENEOUS","m":73,"lo":72.1,"hi":73.9},
      {"e":380,"i":"OVERLAPPED","p":"HOMOGENEOUS","m":73.1,"lo":72.2,"hi":74},
      {"e":390,"i":"OVERLAPPED","p":"HOMOGENEOUS","m":73.1,"lo":72.2,"hi":74},
      {"e":400,"i":"OVERLAPPED","p":"HOMOGENEOUS","m":73.4,"lo":72.5,"hi":74.3},
      {"e":420,"i":"OVERLAPPED","p":"HOMOGENEOUS","m":73.6,"lo":72.7,"hi":74.5},
      {"e":440,"i":"OVERLAPPED","p":"HOMOGENEOUS","m":73.5,"lo":72.6,"hi":74.4},
      {"e":460,"i":"OVERLAPPED","p":"HOMOGENEOUS","m":73.7,"lo":72.8,"hi":74.6},
      {"e":480,"i":"OVERLAPPED","p":"HOMOGENEOUS","m":73.5,"lo":72.6,"hi":74.4},
      {"e":500,"i":"OVERLAPPED","p":"HOMOGENEOUS","m":73.5,"lo":72.6,"hi":74.4},

      {"e":0,"i":"OVERLAPPED","p":"PROGRESSIVE","m":12,"lo":11,"hi":13},
      {"e":3,"i":"OVERLAPPED","p":"PROGRESSIVE","m":14,"lo":13,"hi":15},
      {"e":6,"i":"OVERLAPPED","p":"PROGRESSIVE","m":15.5,"lo":14.3,"hi":16.7},
      {"e":9,"i":"OVERLAPPED","p":"PROGRESSIVE","m":16.5,"lo":15.2,"hi":17.8},
      {"e":12,"i":"OVERLAPPED","p":"PROGRESSIVE","m":18,"lo":16.5,"hi":19.5},
      {"e":15,"i":"OVERLAPPED","p":"PROGRESSIVE","m":22,"lo":20,"hi":24},
      {"e":18,"i":"OVERLAPPED","p":"PROGRESSIVE","m":26.5,"lo":24.5,"hi":28.5},
      {"e":21,"i":"OVERLAPPED","p":"PROGRESSIVE","m":30,"lo":28,"hi":32},
      {"e":24,"i":"OVERLAPPED","p":"PROGRESSIVE","m":33.5,"lo":31.5,"hi":35.5},
      {"e":27,"i":"OVERLAPPED","p":"PROGRESSIVE","m":38,"lo":36,"hi":40},
      {"e":30,"i":"OVERLAPPED","p":"PROGRESSIVE","m":41.5,"lo":39.5,"hi":43.5},
      {"e":33,"i":"OVERLAPPED","p":"PROGRESSIVE","m":44.5,"lo":42.5,"hi":46.5},
      {"e":36,"i":"OVERLAPPED","p":"PROGRESSIVE","m":46.5,"lo":44.5,"hi":48.5},
      {"e":39,"i":"OVERLAPPED","p":"PROGRESSIVE","m":50.5,"lo":48.3,"hi":52.7},
      {"e":41,"i":"OVERLAPPED","p":"PROGRESSIVE","m":52,"lo":49,"hi":55},
      {"e":43,"i":"OVERLAPPED","p":"PROGRESSIVE","m":53,"lo":50.5,"hi":55.5},
      {"e":45,"i":"OVERLAPPED","p":"PROGRESSIVE","m":57,"lo":55,"hi":59},
      {"e":48,"i":"OVERLAPPED","p":"PROGRESSIVE","m":61,"lo":59.2,"hi":62.8},
      {"e":51,"i":"OVERLAPPED","p":"PROGRESSIVE","m":64,"lo":62.4,"hi":65.6},
      {"e":54,"i":"OVERLAPPED","p":"PROGRESSIVE","m":66.3,"lo":64.9,"hi":67.7},
      {"e":57,"i":"OVERLAPPED","p":"PROGRESSIVE","m":68.3,"lo":67.1,"hi":69.5},
      {"e":60,"i":"OVERLAPPED","p":"PROGRESSIVE","m":69.5,"lo":68.5,"hi":70.5},
      {"e":64,"i":"OVERLAPPED","p":"PROGRESSIVE","m":71,"lo":70.2,"hi":71.8},
      {"e":68,"i":"OVERLAPPED","p":"PROGRESSIVE","m":72,"lo":71.3,"hi":72.7},
      {"e":72,"i":"OVERLAPPED","p":"PROGRESSIVE","m":73.3,"lo":72.7,"hi":73.9},
      {"e":80,"i":"OVERLAPPED","p":"PROGRESSIVE","m":74.2,"lo":73.7,"hi":74.7},
      {"e":90,"i":"OVERLAPPED","p":"PROGRESSIVE","m":75,"lo":74.5,"hi":75.5},
      {"e":100,"i":"OVERLAPPED","p":"PROGRESSIVE","m":75.3,"lo":74.8,"hi":75.8},
      {"e":120,"i":"OVERLAPPED","p":"PROGRESSIVE","m":75.6,"lo":75.1,"hi":76.1},
      {"e":150,"i":"OVERLAPPED","p":"PROGRESSIVE","m":75.6,"lo":75.1,"hi":76.1},
      {"e":200,"i":"OVERLAPPED","p":"PROGRESSIVE","m":75.6,"lo":75.1,"hi":76.1},
      {"e":250,"i":"OVERLAPPED","p":"PROGRESSIVE","m":75.5,"lo":75,"hi":76},
      {"e":300,"i":"OVERLAPPED","p":"PROGRESSIVE","m":75.6,"lo":75.1,"hi":76.1},
      {"e":350,"i":"OVERLAPPED","p":"PROGRESSIVE","m":75.6,"lo":75.1,"hi":76.1},
      {"e":400,"i":"OVERLAPPED","p":"PROGRESSIVE","m":75.7,"lo":75.2,"hi":76.2},
      {"e":450,"i":"OVERLAPPED","p":"PROGRESSIVE","m":75.8,"lo":75.3,"hi":76.3},
      {"e":500,"i":"OVERLAPPED","p":"PROGRESSIVE","m":75.9,"lo":75.4,"hi":76.4},

      {"e":0,"i":"PARTITION","p":"HOMOGENEOUS","m":10.5,"lo":9.5,"hi":11.5},
      {"e":3,"i":"PARTITION","p":"HOMOGENEOUS","m":13.5,"lo":12,"hi":15},
      {"e":6,"i":"PARTITION","p":"HOMOGENEOUS","m":15,"lo":13.3,"hi":16.7},
      {"e":9,"i":"PARTITION","p":"HOMOGENEOUS","m":16,"lo":14,"hi":18},
      {"e":12,"i":"PARTITION","p":"HOMOGENEOUS","m":16.5,"lo":14.3,"hi":18.7},
      {"e":15,"i":"PARTITION","p":"HOMOGENEOUS","m":17.5,"lo":15.2,"hi":19.8},
      {"e":18,"i":"PARTITION","p":"HOMOGENEOUS","m":19.8,"lo":17.4,"hi":22.2},
      {"e":21,"i":"PARTITION","p":"HOMOGENEOUS","m":21.5,"lo":19,"hi":24},
      {"e":24,"i":"PARTITION","p":"HOMOGENEOUS","m":23.5,"lo":21,"hi":26},
      {"e":27,"i":"PARTITION","p":"HOMOGENEOUS","m":24.5,"lo":22,"hi":27},
      {"e":30,"i":"PARTITION","p":"HOMOGENEOUS","m":25.5,"lo":23,"hi":28},
      {"e":33,"i":"PARTITION","p":"HOMOGENEOUS","m":27.5,"lo":25,"hi":30},
      {"e":36,"i":"PARTITION","p":"HOMOGENEOUS","m":29.5,"lo":27,"hi":32},
      {"e":39,"i":"PARTITION","p":"HOMOGENEOUS","m":28,"lo":25.5,"hi":30.5},
      {"e":42,"i":"PARTITION","p":"HOMOGENEOUS","m":30,"lo":27.5,"hi":32.5},
      {"e":45,"i":"PARTITION","p":"HOMOGENEOUS","m":30,"lo":27.5,"hi":32.5},
      {"e":48,"i":"PARTITION","p":"HOMOGENEOUS","m":29.5,"lo":27,"hi":32},
      {"e":51,"i":"PARTITION","p":"HOMOGENEOUS","m":29,"lo":26.5,"hi":31.5},
      {"e":54,"i":"PARTITION","p":"HOMOGENEOUS","m":32.5,"lo":30,"hi":35},
      {"e":57,"i":"PARTITION","p":"HOMOGENEOUS","m":34,"lo":31.5,"hi":36.5},
      {"e":60,"i":"PARTITION","p":"HOMOGENEOUS","m":35,"lo":32.5,"hi":37.5},
      {"e":64,"i":"PARTITION","p":"HOMOGENEOUS","m":35.5,"lo":33,"hi":38},
      {"e":68,"i":"PARTITION","p":"HOMOGENEOUS","m":35.5,"lo":33,"hi":38},
      {"e":72,"i":"PARTITION","p":"HOMOGENEOUS","m":37.5,"lo":35,"hi":40},
      {"e":76,"i":"PARTITION","p":"HOMOGENEOUS","m":37,"lo":34.5,"hi":39.5},
      {"e":80,"i":"PARTITION","p":"HOMOGENEOUS","m":37.5,"lo":35,"hi":40},
      {"e":84,"i":"PARTITION","p":"HOMOGENEOUS","m":38.3,"lo":35.8,"hi":40.8},
      {"e":88,"i":"PARTITION","p":"HOMOGENEOUS","m":40,"lo":37.5,"hi":42.5},
      {"e":92,"i":"PARTITION","p":"HOMOGENEOUS","m":40.5,"lo":38,"hi":43},
      {"e":96,"i":"PARTITION","p":"HOMOGENEOUS","m":41,"lo":38.5,"hi":43.5},
      {"e":100,"i":"PARTITION","p":"HOMOGENEOUS","m":41.7,"lo":39.2,"hi":44.2},
      {"e":104,"i":"PARTITION","p":"HOMOGENEOUS","m":43.5,"lo":41,"hi":46},
      {"e":108,"i":"PARTITION","p":"HOMOGENEOUS","m":45.5,"lo":43,"hi":48},
      {"e":112,"i":"PARTITION","p":"HOMOGENEOUS","m":47,"lo":44.5,"hi":49.5},
      {"e":116,"i":"PARTITION","p":"HOMOGENEOUS","m":47,"lo":44.5,"hi":49.5},
      {"e":120,"i":"PARTITION","p":"HOMOGENEOUS","m":49.2,"lo":46.7,"hi":51.7},
      {"e":124,"i":"PARTITION","p":"HOMOGENEOUS","m":50.5,"lo":48,"hi":53},
      {"e":128,"i":"PARTITION","p":"HOMOGENEOUS","m":51.5,"lo":49,"hi":54},
      {"e":132,"i":"PARTITION","p":"HOMOGENEOUS","m":52.5,"lo":50,"hi":55},
      {"e":136,"i":"PARTITION","p":"HOMOGENEOUS","m":53.5,"lo":51,"hi":56},
      {"e":140,"i":"PARTITION","p":"HOMOGENEOUS","m":54.6,"lo":52.1,"hi":57.1},
      {"e":144,"i":"PARTITION","p":"HOMOGENEOUS","m":55.3,"lo":52.8,"hi":57.8},
      {"e":148,"i":"PARTITION","p":"HOMOGENEOUS","m":56.5,"lo":54,"hi":59},
      {"e":151,"i":"PARTITION","p":"HOMOGENEOUS","m":58,"lo":55.5,"hi":60.5},
      {"e":154,"i":"PARTITION","p":"HOMOGENEOUS","m":60.5,"lo":58.3,"hi":62.7},
      {"e":157,"i":"PARTITION","p":"HOMOGENEOUS","m":62.5,"lo":60.5,"hi":64.5},
      {"e":160,"i":"PARTITION","p":"HOMOGENEOUS","m":63.8,"lo":62,"hi":65.6},
      {"e":165,"i":"PARTITION","p":"HOMOGENEOUS","m":65.5,"lo":64,"hi":67},
      {"e":170,"i":"PARTITION","p":"HOMOGENEOUS","m":67,"lo":65.7,"hi":68.3},
      {"e":175,"i":"PARTITION","p":"HOMOGENEOUS","m":68.5,"lo":67.3,"hi":69.7},
      {"e":180,"i":"PARTITION","p":"HOMOGENEOUS","m":69.2,"lo":68,"hi":70.4},
      {"e":185,"i":"PARTITION","p":"HOMOGENEOUS","m":69.6,"lo":68.4,"hi":70.8},
      {"e":190,"i":"PARTITION","p":"HOMOGENEOUS","m":70,"lo":68.9,"hi":71.1},
      {"e":195,"i":"PARTITION","p":"HOMOGENEOUS","m":70.4,"lo":69.3,"hi":71.5},
      {"e":200,"i":"PARTITION","p":"HOMOGENEOUS","m":70.7,"lo":69.7,"hi":71.7},
      {"e":210,"i":"PARTITION","p":"HOMOGENEOUS","m":71.1,"lo":70.1,"hi":72.1},
      {"e":220,"i":"PARTITION","p":"HOMOGENEOUS","m":71.4,"lo":70.5,"hi":72.3},
      {"e":230,"i":"PARTITION","p":"HOMOGENEOUS","m":71.8,"lo":70.9,"hi":72.7},
      {"e":240,"i":"PARTITION","p":"HOMOGENEOUS","m":72.4,"lo":71.5,"hi":73.3},
      {"e":250,"i":"PARTITION","p":"HOMOGENEOUS","m":73.1,"lo":72.3,"hi":73.9},
      {"e":255,"i":"PARTITION","p":"HOMOGENEOUS","m":74.2,"lo":73.4,"hi":75},
      {"e":260,"i":"PARTITION","p":"HOMOGENEOUS","m":75.3,"lo":74.6,"hi":76},
      {"e":265,"i":"PARTITION","p":"HOMOGENEOUS","m":76,"lo":75.3,"hi":76.7},
      {"e":270,"i":"PARTITION","p":"HOMOGENEOUS","m":76.4,"lo":75.8,"hi":77},
      {"e":280,"i":"PARTITION","p":"HOMOGENEOUS","m":76.8,"lo":76.2,"hi":77.4},
      {"e":290,"i":"PARTITION","p":"HOMOGENEOUS","m":77.2,"lo":76.6,"hi":77.8},
      {"e":300,"i":"PARTITION","p":"HOMOGENEOUS","m":77.5,"lo":76.9,"hi":78.1},
      {"e":310,"i":"PARTITION","p":"HOMOGENEOUS","m":77.8,"lo":77.2,"hi":78.4},
      {"e":320,"i":"PARTITION","p":"HOMOGENEOUS","m":78,"lo":77.4,"hi":78.6},
      {"e":340,"i":"PARTITION","p":"HOMOGENEOUS","m":78.4,"lo":77.8,"hi":79},
      {"e":360,"i":"PARTITION","p":"HOMOGENEOUS","m":78.6,"lo":78,"hi":79.2},
      {"e":380,"i":"PARTITION","p":"HOMOGENEOUS","m":78.6,"lo":78,"hi":79.2},
      {"e":400,"i":"PARTITION","p":"HOMOGENEOUS","m":78.8,"lo":78.2,"hi":79.4},
      {"e":420,"i":"PARTITION","p":"HOMOGENEOUS","m":78.8,"lo":78.2,"hi":79.4},
      {"e":440,"i":"PARTITION","p":"HOMOGENEOUS","m":78.9,"lo":78.3,"hi":79.5},
      {"e":460,"i":"PARTITION","p":"HOMOGENEOUS","m":78.8,"lo":78.2,"hi":79.4},
      {"e":480,"i":"PARTITION","p":"HOMOGENEOUS","m":78.8,"lo":78.2,"hi":79.4},
      {"e":500,"i":"PARTITION","p":"HOMOGENEOUS","m":78.8,"lo":78.2,"hi":79.4},

      {"e":0,"i":"PARTITION","p":"PROGRESSIVE","m":11,"lo":10,"hi":12},
      {"e":3,"i":"PARTITION","p":"PROGRESSIVE","m":16,"lo":14,"hi":18},
      {"e":6,"i":"PARTITION","p":"PROGRESSIVE","m":19,"lo":17,"hi":21},
      {"e":9,"i":"PARTITION","p":"PROGRESSIVE","m":20,"lo":18,"hi":22},
      {"e":12,"i":"PARTITION","p":"PROGRESSIVE","m":21,"lo":19,"hi":23},
      {"e":15,"i":"PARTITION","p":"PROGRESSIVE","m":22,"lo":19.8,"hi":24.2},
      {"e":18,"i":"PARTITION","p":"PROGRESSIVE","m":23,"lo":20.6,"hi":25.4},
      {"e":21,"i":"PARTITION","p":"PROGRESSIVE","m":23.5,"lo":21,"hi":26},
      {"e":24,"i":"PARTITION","p":"PROGRESSIVE","m":24.2,"lo":21.7,"hi":26.7},
      {"e":27,"i":"PARTITION","p":"PROGRESSIVE","m":24.8,"lo":22.3,"hi":27.3},
      {"e":30,"i":"PARTITION","p":"PROGRESSIVE","m":25.3,"lo":22.8,"hi":27.8},
      {"e":33,"i":"PARTITION","p":"PROGRESSIVE","m":25.5,"lo":23,"hi":28},
      {"e":36,"i":"PARTITION","p":"PROGRESSIVE","m":26,"lo":23.5,"hi":28.5},
      {"e":40,"i":"PARTITION","p":"PROGRESSIVE","m":26,"lo":23.5,"hi":28.5},
      {"e":44,"i":"PARTITION","p":"PROGRESSIVE","m":26.5,"lo":24,"hi":29},
      {"e":48,"i":"PARTITION","p":"PROGRESSIVE","m":27.5,"lo":25,"hi":30},
      {"e":51,"i":"PARTITION","p":"PROGRESSIVE","m":28.5,"lo":26,"hi":31},
      {"e":54,"i":"PARTITION","p":"PROGRESSIVE","m":32,"lo":29.5,"hi":34.5},
      {"e":57,"i":"PARTITION","p":"PROGRESSIVE","m":34,"lo":31.5,"hi":36.5},
      {"e":60,"i":"PARTITION","p":"PROGRESSIVE","m":35.5,"lo":33,"hi":38},
      {"e":64,"i":"PARTITION","p":"PROGRESSIVE","m":36.3,"lo":33.8,"hi":38.8},
      {"e":68,"i":"PARTITION","p":"PROGRESSIVE","m":36.5,"lo":34,"hi":39},
      {"e":72,"i":"PARTITION","p":"PROGRESSIVE","m":37,"lo":34.5,"hi":39.5},
      {"e":76,"i":"PARTITION","p":"PROGRESSIVE","m":37.5,"lo":35,"hi":40},
      {"e":80,"i":"PARTITION","p":"PROGRESSIVE","m":38.2,"lo":35.7,"hi":40.7},
      {"e":85,"i":"PARTITION","p":"PROGRESSIVE","m":39,"lo":36.5,"hi":41.5},
      {"e":90,"i":"PARTITION","p":"PROGRESSIVE","m":39.7,"lo":37.2,"hi":42.2},
      {"e":95,"i":"PARTITION","p":"PROGRESSIVE","m":40.3,"lo":37.8,"hi":42.8},
      {"e":100,"i":"PARTITION","p":"PROGRESSIVE","m":41,"lo":38.5,"hi":43.5},
      {"e":105,"i":"PARTITION","p":"PROGRESSIVE","m":42,"lo":39.5,"hi":44.5},
      {"e":110,"i":"PARTITION","p":"PROGRESSIVE","m":43.5,"lo":41,"hi":46},
      {"e":115,"i":"PARTITION","p":"PROGRESSIVE","m":44.8,"lo":42.3,"hi":47.3},
      {"e":120,"i":"PARTITION","p":"PROGRESSIVE","m":45.5,"lo":43,"hi":48},
      {"e":125,"i":"PARTITION","p":"PROGRESSIVE","m":46.3,"lo":43.8,"hi":48.8},
      {"e":130,"i":"PARTITION","p":"PROGRESSIVE","m":47.5,"lo":45,"hi":50},
      {"e":135,"i":"PARTITION","p":"PROGRESSIVE","m":48.5,"lo":46,"hi":51},
      {"e":140,"i":"PARTITION","p":"PROGRESSIVE","m":49.5,"lo":47,"hi":52},
      {"e":145,"i":"PARTITION","p":"PROGRESSIVE","m":51,"lo":48.5,"hi":53.5},
      {"e":149,"i":"PARTITION","p":"PROGRESSIVE","m":52.5,"lo":50,"hi":55},
      {"e":152,"i":"PARTITION","p":"PROGRESSIVE","m":56,"lo":53.5,"hi":58.5},
      {"e":154,"i":"PARTITION","p":"PROGRESSIVE","m":60,"lo":57.8,"hi":62.2},
      {"e":156,"i":"PARTITION","p":"PROGRESSIVE","m":63,"lo":61,"hi":65},
      {"e":160,"i":"PARTITION","p":"PROGRESSIVE","m":63.5,"lo":61.8,"hi":65.2},
      {"e":165,"i":"PARTITION","p":"PROGRESSIVE","m":64.2,"lo":62.6,"hi":65.8},
      {"e":170,"i":"PARTITION","p":"PROGRESSIVE","m":64.7,"lo":63.1,"hi":66.3},
      {"e":175,"i":"PARTITION","p":"PROGRESSIVE","m":65.3,"lo":63.7,"hi":66.9},
      {"e":180,"i":"PARTITION","p":"PROGRESSIVE","m":65.5,"lo":63.9,"hi":67.1},
      {"e":185,"i":"PARTITION","p":"PROGRESSIVE","m":66,"lo":64.5,"hi":67.5},
      {"e":190,"i":"PARTITION","p":"PROGRESSIVE","m":66.5,"lo":65,"hi":68},
      {"e":195,"i":"PARTITION","p":"PROGRESSIVE","m":66.8,"lo":65.3,"hi":68.3},
      {"e":200,"i":"PARTITION","p":"PROGRESSIVE","m":67,"lo":65.5,"hi":68.5},
      {"e":205,"i":"PARTITION","p":"PROGRESSIVE","m":67.8,"lo":66.3,"hi":69.3},
      {"e":210,"i":"PARTITION","p":"PROGRESSIVE","m":68.5,"lo":67,"hi":70},
      {"e":215,"i":"PARTITION","p":"PROGRESSIVE","m":68.9,"lo":67.5,"hi":70.3},
      {"e":220,"i":"PARTITION","p":"PROGRESSIVE","m":69.1,"lo":67.7,"hi":70.5},
      {"e":230,"i":"PARTITION","p":"PROGRESSIVE","m":69.6,"lo":68.3,"hi":70.9},
      {"e":240,"i":"PARTITION","p":"PROGRESSIVE","m":70,"lo":68.8,"hi":71.2},
      {"e":250,"i":"PARTITION","p":"PROGRESSIVE","m":70.3,"lo":69.1,"hi":71.5},
      {"e":253,"i":"PARTITION","p":"PROGRESSIVE","m":71.5,"lo":70.4,"hi":72.6},
      {"e":256,"i":"PARTITION","p":"PROGRESSIVE","m":73.5,"lo":72.6,"hi":74.4},
      {"e":260,"i":"PARTITION","p":"PROGRESSIVE","m":74,"lo":73.2,"hi":74.8},
      {"e":270,"i":"PARTITION","p":"PROGRESSIVE","m":74.4,"lo":73.6,"hi":75.2},
      {"e":280,"i":"PARTITION","p":"PROGRESSIVE","m":74.7,"lo":73.9,"hi":75.5},
      {"e":290,"i":"PARTITION","p":"PROGRESSIVE","m":75.1,"lo":74.3,"hi":75.9},
      {"e":300,"i":"PARTITION","p":"PROGRESSIVE","m":75.4,"lo":74.6,"hi":76.2},
      {"e":310,"i":"PARTITION","p":"PROGRESSIVE","m":76,"lo":75.2,"hi":76.8},
      {"e":320,"i":"PARTITION","p":"PROGRESSIVE","m":76.5,"lo":75.7,"hi":77.3},
      {"e":330,"i":"PARTITION","p":"PROGRESSIVE","m":76.8,"lo":76,"hi":77.6},
      {"e":350,"i":"PARTITION","p":"PROGRESSIVE","m":77.1,"lo":76.3,"hi":77.9},
      {"e":370,"i":"PARTITION","p":"PROGRESSIVE","m":77.2,"lo":76.4,"hi":78},
      {"e":400,"i":"PARTITION","p":"PROGRESSIVE","m":77.4,"lo":76.6,"hi":78.2},
      {"e":420,"i":"PARTITION","p":"PROGRESSIVE","m":77.4,"lo":76.6,"hi":78.2},
      {"e":440,"i":"PARTITION","p":"PROGRESSIVE","m":77.5,"lo":76.7,"hi":78.3},
      {"e":460,"i":"PARTITION","p":"PROGRESSIVE","m":77.4,"lo":76.6,"hi":78.2},
      {"e":480,"i":"PARTITION","p":"PROGRESSIVE","m":77.5,"lo":76.7,"hi":78.3},
      {"e":500,"i":"PARTITION","p":"PROGRESSIVE","m":77.5,"lo":76.7,"hi":78.3}
    ],
    "legendKeys": [
      {"k": "DecayIntervals"},
      {"k": "SAME_START"},
      {"k": "SAME_END"},
      {"k": "OVERLAPPED"},
      {"k": "PARTITION"},
      {"k": "DecayPowerLaw"},
      {"k": "HOMOGENEOUS"},
      {"k": "PROGRESSIVE"}
    ]
  },
  "layer": [
    {
      "data": {"name": "curves"},
      "mark": {"type": "area", "opacity": 0.2},
      "encoding": {
        "x": {"field": "e", "type": "quantitative", "title": "Epoch",
              "scale": {"domain": [0, 500]},
              "axis": {"values": [0, 100, 200, 300, 400, 500], "grid": true}},
        "y": {"field": "lo", "type": "quantitative", "title": "Accuracy (%)",
              "scale": {"domain": [0, 100]},
              "axis": {"values": [0, 20, 40, 60, 80, 100], "grid": true}},
        "y2": {"field": "hi"},
        "color": {"field": "i", "type": "nominal",
                  "scale": {"domain": ["SAME_START", "SAME_END", "OVERLAPPED", "PARTITION"],
                            "range": ["#2ca02c", "#e41a1c", "#1f77b4", "#ff7f0e"]},
                  "legend": null},
        "detail": {"field": "p"}
      }
    },
    {
      "data": {"name": "curves"},
      "mark": {"type": "line", "strokeWidth": 4},
      "encoding": {
        "x": {"field": "e", "type": "quantitative", "title": "Epoch"},
        "y": {"field": "m", "type": "quantitative", "title": "Accuracy (%)"},
        "color": {"field": "i", "type": "nominal",
                  "scale": {"domain": ["SAME_START", "SAME_END", "OVERLAPPED", "PARTITION"],
                            "range": ["#2ca02c", "#e41a1c", "#1f77b4", "#ff7f0e"]},
                  "legend": null},
        "strokeDash": {"field": "p", "type": "nominal",
                       "scale": {"domain": ["HOMOGENEOUS", "PROGRESSIVE"], "range": [[1, 0], [4, 7]]},
                       "legend": null}
      }
    },
    {
      "data": {"name": "legendKeys"},
      "mark": {"type": "line", "strokeWidth": 4},
      "encoding": {
        "x": {"field": "e", "type": "quantitative", "title": "Epoch"},
        "y": {"field": "m", "type": "quantitative", "title": "Accuracy (%)"},
        "color": {"field": "k", "type": "nominal",
                  "scale": {"domain": ["DecayIntervals", "SAME_START", "SAME_END", "OVERLAPPED", "PARTITION", "DecayPowerLaw", "HOMOGENEOUS", "PROGRESSIVE"],
                            "range": ["transparent", "#2ca02c", "#e41a1c", "#1f77b4", "#ff7f0e", "transparent", "#333333", "#333333"]},
                  "legend": {"title": null}},
        "strokeDash": {"field": "k", "type": "nominal",
                       "scale": {"domain": ["DecayIntervals", "SAME_START", "SAME_END", "OVERLAPPED", "PARTITION", "DecayPowerLaw", "HOMOGENEOUS", "PROGRESSIVE"],
                                 "range": [[1, 0], [1, 0], [1, 0], [1, 0], [1, 0], [1, 0], [1, 0], [4, 7]]},
                       "legend": {"title": null}}
      }
    }
  ],
  "resolve": {"scale": {"color": "independent", "strokeDash": "independent"}}
}
